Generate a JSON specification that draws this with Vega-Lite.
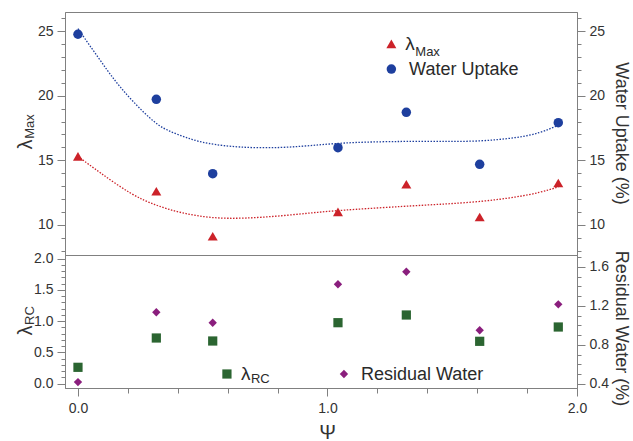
{
  "$schema": "https://vega.github.io/schema/vega-lite/v6.json",
  "padding": {"left": 14, "top": 10, "right": 0, "bottom": 4},
  "config": {
    "view": {"stroke": "#808080", "strokeWidth": 1},
    "font": "Liberation Sans",
    "axis": {"domainColor": "#808080", "tickColor": "#808080", "labelColor": "#333333", "labelFont": "Liberation Sans", "labelFontSize": 14, "titleFont": "Liberation Sans", "titleColor": "#333333", "titleFontWeight": "normal", "grid": false, "labelOverlap": false, "labelBound": false, "labelFlush": false, "labelPadding": 4}
  },
  "datasets": {
    "pts": [
      {"psi": 0.0, "lmax": 15.31, "water": 24.75, "lrc": 0.262, "resid": 0.417},
      {"psi": 0.314, "lmax": 12.61, "water": 19.72, "lrc": 0.731, "resid": 1.134},
      {"psi": 0.54, "lmax": 9.13, "water": 13.97, "lrc": 0.683, "resid": 1.027},
      {"psi": 1.042, "lmax": 11.01, "water": 15.98, "lrc": 0.976, "resid": 1.422},
      {"psi": 1.316, "lmax": 13.15, "water": 18.71, "lrc": 1.099, "resid": 1.551},
      {"psi": 1.61, "lmax": 10.62, "water": 14.69, "lrc": 0.678, "resid": 0.949},
      {"psi": 1.925, "lmax": 13.25, "water": 17.91, "lrc": 0.907, "resid": 1.216}
    ],
    "fitMax": [
      {"psi": 0.0, "fit": 15.31}, {"psi": 0.084, "fit": 14.1}, {"psi": 0.217, "fit": 12.3}, {"psi": 0.313, "fit": 11.5},
      {"psi": 0.417, "fit": 10.9}, {"psi": 0.537, "fit": 10.52}, {"psi": 0.664, "fit": 10.5}, {"psi": 0.817, "fit": 10.7},
      {"psi": 0.964, "fit": 11.0}, {"psi": 1.1, "fit": 11.2}, {"psi": 1.31, "fit": 11.45}, {"psi": 1.45, "fit": 11.6},
      {"psi": 1.607, "fit": 11.78}, {"psi": 1.764, "fit": 12.17}, {"psi": 1.85, "fit": 12.5}, {"psi": 1.925, "fit": 12.94}
    ],
    "fitWater": [
      {"psi": 0.0, "fit": 25.18}, {"psi": 0.084, "fit": 22.86}, {"psi": 0.151, "fit": 21.06}, {"psi": 0.217, "fit": 19.6},
      {"psi": 0.313, "fit": 17.75}, {"psi": 0.377, "fit": 17.15}, {"psi": 0.45, "fit": 16.65}, {"psi": 0.512, "fit": 16.3},
      {"psi": 0.645, "fit": 15.98}, {"psi": 0.817, "fit": 15.95}, {"psi": 0.964, "fit": 16.2}, {"psi": 1.1, "fit": 16.4},
      {"psi": 1.31, "fit": 16.47}, {"psi": 1.45, "fit": 16.47}, {"psi": 1.607, "fit": 16.45}, {"psi": 1.764, "fit": 16.75},
      {"psi": 1.85, "fit": 17.1}, {"psi": 1.925, "fit": 17.71}
    ],
    "one": [{}]
  },
  "spacing": 0,
  "bounds": "flush",
  "vconcat": [
    {
      "width": 512, "height": 243,
      "resolve": {"scale": {"y": "independent"}},
      "layer": [
        {
          "data": {"name": "fitMax"},
          "mark": {"type": "line", "color": "#cc2229", "strokeDash": [1.5, 1.5], "strokeWidth": 1.3, "interpolate": "basis"},
          "encoding": {
            "x": {"field": "psi", "type": "quantitative", "scale": {"domain": [-0.052, 2.0], "nice": false, "zero": false}, "axis": null},
            "y": {"field": "fit", "type": "quantitative", "scale": {"domain": [7.68, 26.47], "nice": false, "zero": false},
                  "axis": {"orient": "left", "labels": false, "ticks": false, "domain": false, "title": "Max", "titleFontSize": 13, "titleAngle": -90, "titleX": -32, "titleY": 114, "titleAlign": "center", "titleBaseline": "alphabetic"}}
          }
        },
        {
          "data": {"name": "fitWater"},
          "mark": {"type": "line", "color": "#1e3f9e", "strokeDash": [1.5, 1.5], "strokeWidth": 1.3, "interpolate": "basis"},
          "encoding": {
            "x": {"field": "psi", "type": "quantitative", "scale": {"domain": [-0.052, 2.0], "nice": false, "zero": false}, "axis": null},
            "y": {"field": "fit", "type": "quantitative", "scale": {"domain": [7.68, 26.47], "nice": false, "zero": false}, "axis": null}
          }
        },
        {
          "data": {"name": "pts"},
          "mark": {"type": "point", "shape": "triangle-up", "filled": true, "size": 100, "color": "#cc2229", "opacity": 1},
          "encoding": {
            "x": {"field": "psi", "type": "quantitative", "scale": {"domain": [-0.052, 2.0], "nice": false, "zero": false}, "axis": null},
            "y": {"field": "lmax", "type": "quantitative", "scale": {"domain": [7.68, 26.47], "nice": false, "zero": false},
                  "axis": {"orient": "left", "values": [8,9,10,11,12,13,14,15,16,17,18,19,20,21,22,23,24,25,26], "format": "d",
                           "labelExpr": "datum.value % 5 === 0 ? datum.label : ''",
                           "tickSize": {"condition": {"test": "datum.value % 5 === 0", "value": 8}, "value": 4},
                           "title": "λ", "titleFontSize": 20, "titleAngle": -90, "titleX": -34, "titleY": 132, "titleAlign": "center", "titleBaseline": "alphabetic"}}
          }
        },
        {
          "data": {"name": "pts"},
          "mark": {"type": "point", "shape": "circle", "filled": true, "size": 90, "color": "#1e3f9e", "opacity": 1},
          "encoding": {
            "x": {"field": "psi", "type": "quantitative", "scale": {"domain": [-0.052, 2.0], "nice": false, "zero": false}, "axis": null},
            "y": {"field": "water", "type": "quantitative", "scale": {"domain": [7.68, 26.47], "nice": false, "zero": false},
                  "axis": {"orient": "right", "values": [8,9,10,11,12,13,14,15,16,17,18,19,20,21,22,23,24,25,26], "format": "d",
                           "labelExpr": "datum.value % 5 === 0 ? datum.label : ''",
                           "tickSize": {"condition": {"test": "datum.value % 5 === 0", "value": 8}, "value": 4},
                           "title": "Water Uptake (%)", "titleFontSize": 18, "titleAngle": 90, "titleX": 38, "titleY": 121, "titleAlign": "center", "titleBaseline": "alphabetic"}}
          }
        },
        {
          "data": {"name": "one"},
          "mark": {"type": "point", "shape": "triangle-up", "filled": true, "size": 100, "color": "#cc2229", "opacity": 1},
          "encoding": {
            "x": {"datum": 1.256, "type": "quantitative", "scale": {"domain": [-0.052, 2.0], "nice": false, "zero": false}, "axis": null},
            "y": {"datum": 24.0, "type": "quantitative", "scale": {"domain": [7.68, 26.47], "nice": false, "zero": false}, "axis": null}
          }
        },
        {
          "data": {"name": "one"},
          "mark": {"type": "text", "text": "λ", "fontSize": 19, "align": "left", "baseline": "alphabetic", "color": "#2a2a2a"},
          "encoding": {
            "x": {"datum": 1.312, "type": "quantitative", "scale": {"domain": [-0.052, 2.0], "nice": false, "zero": false}, "axis": null},
            "y": {"datum": 23.53, "type": "quantitative", "scale": {"domain": [7.68, 26.47], "nice": false, "zero": false}, "axis": null}
          }
        },
        {
          "data": {"name": "one"},
          "mark": {"type": "text", "text": "Max", "fontSize": 13, "align": "left", "baseline": "alphabetic", "color": "#2a2a2a"},
          "encoding": {
            "x": {"datum": 1.352, "type": "quantitative", "scale": {"domain": [-0.052, 2.0], "nice": false, "zero": false}, "axis": null},
            "y": {"datum": 23.07, "type": "quantitative", "scale": {"domain": [7.68, 26.47], "nice": false, "zero": false}, "axis": null}
          }
        },
        {
          "data": {"name": "one"},
          "mark": {"type": "point", "shape": "circle", "filled": true, "size": 90, "color": "#1e3f9e", "opacity": 1},
          "encoding": {
            "x": {"datum": 1.256, "type": "quantitative", "scale": {"domain": [-0.052, 2.0], "nice": false, "zero": false}, "axis": null},
            "y": {"datum": 22.06, "type": "quantitative", "scale": {"domain": [7.68, 26.47], "nice": false, "zero": false}, "axis": null}
          }
        },
        {
          "data": {"name": "one"},
          "mark": {"type": "text", "text": "Water Uptake", "fontSize": 18, "align": "left", "baseline": "alphabetic", "color": "#2a2a2a"},
          "encoding": {
            "x": {"datum": 1.327, "type": "quantitative", "scale": {"domain": [-0.052, 2.0], "nice": false, "zero": false}, "axis": null},
            "y": {"datum": 21.6, "type": "quantitative", "scale": {"domain": [7.68, 26.47], "nice": false, "zero": false}, "axis": null}
          }
        }
      ]
    },
    {
      "width": 512, "height": 133,
      "resolve": {"scale": {"y": "independent"}},
      "layer": [
        {
          "data": {"name": "pts"},
          "mark": {"type": "point", "shape": "square", "filled": true, "size": 85, "color": "#2b6531", "opacity": 1},
          "encoding": {
            "x": {"field": "psi", "type": "quantitative", "scale": {"domain": [-0.052, 2.0], "nice": false, "zero": false},
                  "axis": {"orient": "bottom", "values": [0,0.1,0.2,0.3,0.4,0.5,0.6,0.7,0.8,0.9,1,1.1,1.2,1.3,1.4,1.5,1.6,1.7,1.8,1.9,2], "format": ".1f",
                           "labelExpr": "abs(datum.value*2 - round(datum.value*2)) < 0.001 ? datum.label : ''",
                           "tickSize": {"condition": {"test": "abs(datum.value*2 - round(datum.value*2)) < 0.001", "value": 8}, "value": 5},
                           "labelPadding": 5,
                           "title": "Ψ", "titleFontSize": 20, "titleX": 262, "titleY": 50, "titleAlign": "center", "titleBaseline": "alphabetic"}},
            "y": {"field": "lrc", "type": "quantitative", "scale": {"domain": [-0.069, 2.059], "nice": false, "zero": false},
                  "axis": {"orient": "left", "values": [0,0.1,0.2,0.3,0.4,0.5,0.6,0.7,0.8,0.9,1,1.1,1.2,1.3,1.4,1.5,1.6,1.7,1.8,1.9,2], "format": ".1f",
                           "labelExpr": "abs(datum.value*2 - round(datum.value*2)) < 0.001 ? datum.label : ''",
                           "tickSize": {"condition": {"test": "abs(datum.value*2 - round(datum.value*2)) < 0.001", "value": 8}, "value": 4},
                           "title": "λ", "titleFontSize": 20, "titleAngle": -90, "titleX": -34, "titleY": 75, "titleAlign": "center", "titleBaseline": "alphabetic"}}
          }
        },
        {
          "data": {"name": "pts"},
          "mark": {"type": "point", "shape": "diamond", "filled": true, "size": 70, "color": "#8a1e7d", "opacity": 1},
          "encoding": {
            "x": {"field": "psi", "type": "quantitative", "scale": {"domain": [-0.052, 2.0], "nice": false, "zero": false},
                  "axis": {"orient": "bottom", "values": [0,0.1,0.2,0.3,0.4,0.5,0.6,0.7,0.8,0.9,1,1.1,1.2,1.3,1.4,1.5,1.6,1.7,1.8,1.9,2], "format": ".1f",
                           "labelExpr": "abs(datum.value*2 - round(datum.value*2)) < 0.001 ? datum.label : ''",
                           "tickSize": {"condition": {"test": "abs(datum.value*2 - round(datum.value*2)) < 0.001", "value": 8}, "value": 5},
                           "labelPadding": 5,
                           "title": "Ψ", "titleFontSize": 20, "titleX": 262, "titleY": 50, "titleAlign": "center", "titleBaseline": "alphabetic"}},
            "y": {"field": "resid", "type": "quantitative", "scale": {"domain": [0.356, 1.723], "nice": false, "zero": false},
                  "axis": {"orient": "right", "values": [0.4,0.5,0.6,0.7,0.8,0.9,1,1.1,1.2,1.3,1.4,1.5,1.6,1.7], "format": ".1f",
                           "labelExpr": "abs(datum.value/0.4 - round(datum.value/0.4)) < 0.001 ? datum.label : ''",
                           "tickSize": {"condition": {"test": "abs(datum.value/0.4 - round(datum.value/0.4)) < 0.001", "value": 8}, "value": 4},
                           "title": "Residual Water (%)", "titleFontSize": 18, "titleAngle": 90, "titleX": 38, "titleY": 73, "titleAlign": "center", "titleBaseline": "alphabetic"}}
          }
        },
        {
          "data": {"name": "one"},
          "mark": {"type": "point", "shape": "square", "filled": true, "size": 85, "color": "#2b6531", "opacity": 1},
          "encoding": {
            "x": {"datum": 0.597, "type": "quantitative", "scale": {"domain": [-0.052, 2.0], "nice": false, "zero": false}},
            "y": {"datum": 0.155, "type": "quantitative", "scale": {"domain": [-0.069, 2.059], "nice": false, "zero": false},
                  "axis": {"orient": "left", "labels": false, "ticks": false, "domain": false, "title": "RC", "titleFontSize": 13, "titleAngle": -90, "titleX": -32, "titleY": 60, "titleAlign": "center", "titleBaseline": "alphabetic"}}
          }
        },
        {
          "data": {"name": "one"},
          "mark": {"type": "text", "text": "λ", "fontSize": 19, "align": "left", "baseline": "alphabetic", "color": "#2a2a2a"},
          "encoding": {
            "x": {"datum": 0.653, "type": "quantitative", "scale": {"domain": [-0.052, 2.0], "nice": false, "zero": false}},
            "y": {"datum": 0.059, "type": "quantitative", "scale": {"domain": [-0.069, 2.059], "nice": false, "zero": false}, "axis": null}
          }
        },
        {
          "data": {"name": "one"},
          "mark": {"type": "text", "text": "RC", "fontSize": 13, "align": "left", "baseline": "alphabetic", "color": "#2a2a2a"},
          "encoding": {
            "x": {"datum": 0.693, "type": "quantitative", "scale": {"domain": [-0.052, 2.0], "nice": false, "zero": false}},
            "y": {"datum": 0.011, "type": "quantitative", "scale": {"domain": [-0.069, 2.059], "nice": false, "zero": false}, "axis": null}
          }
        },
        {
          "data": {"name": "one"},
          "mark": {"type": "point", "shape": "diamond", "filled": true, "size": 70, "color": "#8a1e7d", "opacity": 1},
          "encoding": {
            "x": {"datum": 1.066, "type": "quantitative", "scale": {"domain": [-0.052, 2.0], "nice": false, "zero": false}},
            "y": {"datum": 0.155, "type": "quantitative", "scale": {"domain": [-0.069, 2.059], "nice": false, "zero": false}, "axis": null}
          }
        },
        {
          "data": {"name": "one"},
          "mark": {"type": "text", "text": "Residual Water", "fontSize": 18, "align": "left", "baseline": "alphabetic", "color": "#2a2a2a"},
          "encoding": {
            "x": {"datum": 1.134, "type": "quantitative", "scale": {"domain": [-0.052, 2.0], "nice": false, "zero": false}},
            "y": {"datum": 0.059, "type": "quantitative", "scale": {"domain": [-0.069, 2.059], "nice": false, "zero": false}, "axis": null}
          }
        }
      ]
    }
  ]
}
